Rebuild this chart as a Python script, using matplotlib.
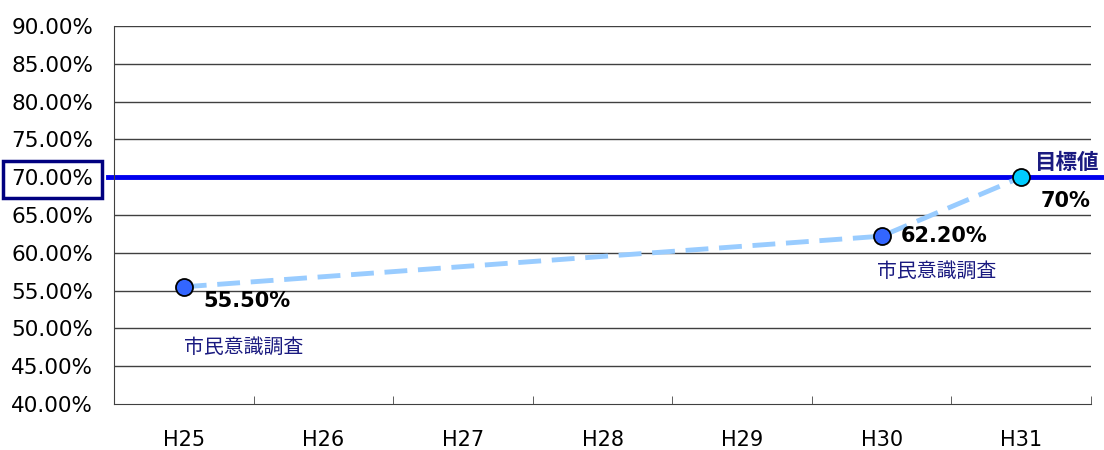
import matplotlib
matplotlib.use('Agg')
import matplotlib.pyplot as plt
from matplotlib.ticker import FuncFormatter

years = ['H25', 'H26', 'H27', 'H28', 'H29', 'H30', 'H31']
survey_x = [0, 5, 6]
survey_vals = [55.5, 62.2, 70.0]
target = 70.0
value_labels = ['55.50%', '62.20%', '70%']
yticks = [40, 45, 50, 55, 60, 65, 70, 75, 80, 85, 90]

plt.rcParams['font.family'] = ['DejaVu Sans', 'Noto Sans CJK JP']

fig = plt.figure(figsize=(11.04, 4.5), dpi=100)
ax = fig.add_axes([114/1104, 46/450, (1091-114)/1104, (404-26)/450])

ax.set_xlim(-0.5, 6.5)
ax.set_ylim(40, 90)
ax.set_yticks(yticks)
ax.yaxis.set_major_formatter(FuncFormatter(lambda v, p: f'{v:.2f}%'))
ax.tick_params(axis='y', length=0, labelsize=15.5, pad=15)
ax.set_xticks(range(len(years)))
ax.set_xticklabels(years)
ax.set_xticks([i - 0.5 for i in range(len(years) + 1)], minor=True)
ax.tick_params(axis='x', which='major', length=0, labelsize=15, pad=19)
ax.tick_params(axis='x', which='minor', length=6, direction='in', color='#444444')

for y in yticks[1:]:
    ax.axhline(y, color='#404040', lw=1, zorder=1)
for s in ['top', 'right']:
    ax.spines[s].set_visible(False)
ax.spines['left'].set_color('#404040')
ax.spines['bottom'].set_color('#404040')

# target line
ax.plot([-0.54, 6.6], [target, target], color='#0000EE', lw=3.5, zorder=2, clip_on=False)

ax.plot(survey_x, survey_vals, color='#99CCFF', lw=3.5, dashes=(4.7, 2.2), zorder=3)
ax.scatter(survey_x[:2], survey_vals[:2], s=150, color='#3366FF', edgecolor='black', lw=1.3, zorder=4)
ax.scatter(survey_x[2:], survey_vals[2:], s=150, color='#00CCFF', edgecolor='black', lw=1.3, zorder=4)

ax.text(0.14, 54.9, value_labels[0], fontsize=15, fontweight='bold', va='top', ha='left')
ax.text(5.14, 62.2, value_labels[1], fontsize=15, fontweight='bold', va='center', ha='left')
ax.text(6.5, 66.9, value_labels[2], fontsize=15, fontweight='bold', va='center', ha='right', clip_on=False)
ax.text(6.1, 72.0, '目標値', fontsize=15.5, fontweight='bold', color='#1a1a80', va='center', ha='left',
        family=['Noto Sans CJK JP'])
ax.text(0.0, 47.5, '市民意識調査', fontsize=14.3, color='#1a1a80', va='center', ha='left', family=['Noto Sans CJK JP'])
ax.text(4.97, 57.5, '市民意識調査', fontsize=14.3, color='#1a1a80', va='center', ha='left', family=['Noto Sans CJK JP'])

# box around 70.00% label
for lab in ax.get_yticklabels():
    if lab.get_text() == '70.00%':
        lab.set_bbox(dict(facecolor='white', edgecolor='#000080', lw=2.5, pad=6))

fig.savefig('out.png', dpi=100)
